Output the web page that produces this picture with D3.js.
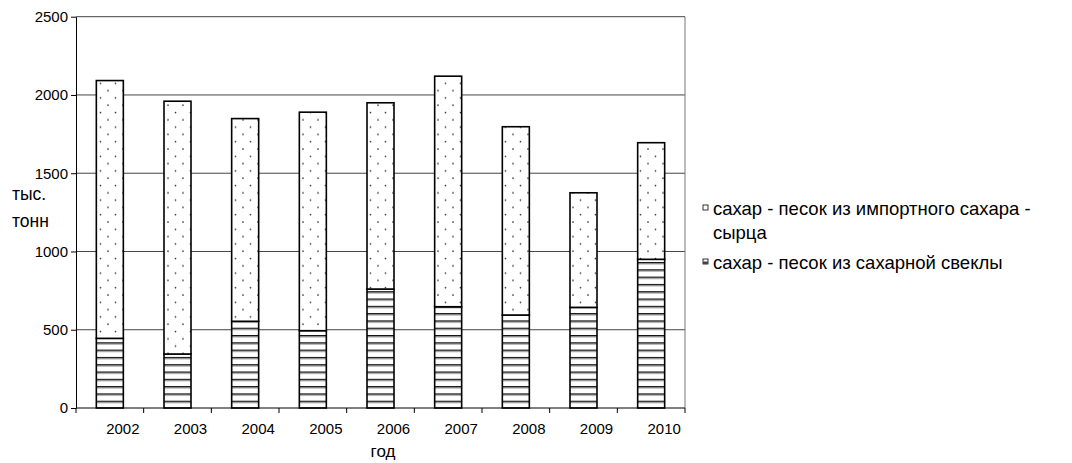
<!DOCTYPE html>
<html><head><meta charset="utf-8">
<script src="https://cdn.jsdelivr.net/npm/d3@7/dist/d3.min.js"></script>
<style>body{margin:0;background:#fff}svg{display:block;font-family:"Liberation Sans",Arial,sans-serif}</style>
</head><body><svg id="c" width="1072" height="463"></svg>
<script>
const years = ["2002","2003","2004","2005","2006","2007","2008","2009","2010"];
const beet = [445, 345, 554, 494, 760, 647, 594, 643, 950];
const imported = [1647, 1615, 1295, 1396, 1190, 1473, 1203, 732, 745];
const yTicks = [0, 500, 1000, 1500, 2000, 2500];
const seriesNames = ["сахар - песок из импортного сахара -", "сырца"];
const seriesName2 = "сахар - песок из сахарной свеклы";

const svg = d3.select("#c");
const L = 76, R = 685, T = 16.7, B = 408;
const x = d3.scaleBand().domain(years).range([L, R]).paddingInner(0).paddingOuter(0);
const y = d3.scaleLinear().domain([0, 2500]).range([B, T]);

const defs = svg.append("defs");
const dots = defs.append("pattern").attr("id","dots").attr("patternUnits","userSpaceOnUse")
  .attr("width",15).attr("height",14.6);
dots.append("rect").attr("width",15).attr("height",14.6).attr("fill","#fff");
dots.append("circle").attr("cx",3).attr("cy",3).attr("r",0.85).attr("fill","#333");
dots.append("circle").attr("cx",10.5).attr("cy",10.3).attr("r",0.85).attr("fill","#333");
const hl = defs.append("pattern").attr("id","hlines").attr("patternUnits","userSpaceOnUse")
  .attr("width",8).attr("height",7.3).attr("y",B);
hl.append("rect").attr("width",8).attr("height",7.3).attr("fill","#fff");
hl.append("rect").attr("y",0).attr("width",8).attr("height",1.4).attr("fill","#111");
hl.append("rect").attr("y",1.4).attr("width",8).attr("height",0.9).attr("fill","#888");

// gridlines
svg.append("g").selectAll("line").data(yTicks.filter(d=>d>0)).join("line")
  .attr("x1",L).attr("x2",R).attr("y1",d=>y(d)).attr("y2",d=>y(d))
  .attr("stroke","#444").attr("stroke-width",1);
svg.append("line").attr("x1",R).attr("x2",R).attr("y1",T).attr("y2",B).attr("stroke","#777");

// y axis
const ya = svg.append("g").attr("transform",`translate(${L},0)`)
  .call(d3.axisLeft(y).tickValues(yTicks).tickSize(5).tickPadding(3).tickSizeOuter(0).tickFormat(d3.format("d")));
ya.select(".domain").attr("stroke","#000");
ya.selectAll("text").attr("font-size",15).attr("fill","#000").attr("font-family","Liberation Sans, Arial");

// bars
const bw = 27, off = (x.bandwidth()-bw)/2;
svg.append("g").selectAll("rect").data(years).join("rect")
  .attr("x",d=>x(d)+off).attr("width",bw)
  .attr("y",(d,i)=>y(beet[i])).attr("height",(d,i)=>B-y(beet[i]))
  .attr("fill","url(#hlines)").attr("stroke","#000").attr("stroke-width",1.6);
svg.append("g").selectAll("rect").data(years).join("rect")
  .attr("x",d=>x(d)+off).attr("width",bw)
  .attr("y",(d,i)=>y(beet[i]+imported[i])).attr("height",(d,i)=>y(beet[i])-y(beet[i]+imported[i]))
  .attr("fill","url(#dots)").attr("stroke","#000").attr("stroke-width",1.6);

// x axis
svg.append("line").attr("x1",L).attr("x2",R).attr("y1",B).attr("y2",B).attr("stroke","#000");
svg.append("g").selectAll("line").data(d3.range(years.length+1)).join("line")
  .attr("x1",i=>L+i*x.step()).attr("x2",i=>L+i*x.step()).attr("y1",B).attr("y2",B+5).attr("stroke","#000");
svg.append("g").selectAll("text").data(years).join("text")
  .attr("x",d=>x(d)+x.bandwidth()/2+13).attr("y",434).attr("text-anchor","middle")
  .attr("font-size",15).text(d=>d);

svg.append("text").attr("x",383).attr("y",457).attr("text-anchor","middle").attr("font-size",17).text("год");
svg.append("text").attr("x",12).attr("y",200).attr("font-size",17.5).text("тыс.");
svg.append("text").attr("x",12).attr("y",227).attr("font-size",17.5).text("тонн");

// legend
const lg = svg.append("g");
lg.append("rect").attr("x",703).attr("y",205).attr("width",5).attr("height",5).attr("fill","#fff").attr("stroke","#000").attr("stroke-width",0.8);
lg.append("text").attr("x",713).attr("y",215).attr("font-size",18.5).text(seriesNames[0]);
lg.append("text").attr("x",713).attr("y",239).attr("font-size",18.5).text(seriesNames[1]);
lg.append("rect").attr("x",703).attr("y",259).attr("width",5).attr("height",5).attr("fill","#fff").attr("stroke","#000").attr("stroke-width",0.8);
lg.append("rect").attr("x",703).attr("y",261.5).attr("width",5).attr("height",2.5).attr("fill","#444");
lg.append("text").attr("x",713).attr("y",269).attr("font-size",18.5).text(seriesName2);
</script></body></html>
